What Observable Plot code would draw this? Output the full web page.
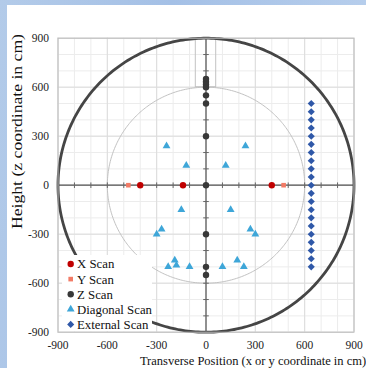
<!DOCTYPE html>
<html><head><meta charset="utf-8">
<script src="https://cdn.jsdelivr.net/npm/d3@7"></script>
<script src="https://cdn.jsdelivr.net/npm/@observablehq/plot@0.6"></script>
<style>
html,body{margin:0;padding:0;width:366px;height:368px;overflow:hidden;}
body{background:linear-gradient(100deg,#b3cbe9,#a4c0e6 40%,#bcd2ee);position:relative;}
#panel{position:absolute;left:7px;top:5px;width:359px;height:363px;background:#fff;}
#chart{position:absolute;left:0;top:0;}
</style></head><body><div id="panel"></div><div id="chart"></div>
<script>
// ---- data ----
const xScanX = [-400, -140, 400];
const xScanY = [0, 0, 0];
const yScanX = [-472, 472];
const yScanY = [0, 0];
const zScanX = [0, 0, 0, 0, 0, 0, 0, 0, 0, 0, 0];
const zScanY = [650, 633, 617, 600, 550, 500, 300, 0, -300, -500, -550];
const diagX = [-240, -120, 120, 240, -150, 150, -270, -300, 270, 300, -230, -190, -180, -100, 100, 190, 230];
const diagY = [240, 120, 120, 240, -150, -150, -270, -300, -270, -300, -500, -460, -490, -500, -500, -460, -500];
const extX = [640,640,640,640,640,640,640,640,640,640,640,640,640,640,640,640,640,640,640,640,640];
const extY = [500,450,400,350,300,250,200,150,100,50,0,-50,-100,-150,-200,-250,-300,-350,-400,-450,-500];
const tickLabels = [-900, -600, -300, 0, 300, 600, 900];
const minorTicks = [-900,-800,-700,-600,-500,-400,-300,-200,-100,0,100,200,300,400,500,600,700,800,900];
const axisTicks = [-800,-700,-600,-500,-400,-300,-200,-100,100,200,300,400,500,600,700,800];
const ringRadii = [900, 600];   // outer vessel, inner fiducial circle
const chimney = {x1: -62, x2: 62, y1: 600, y2: 900};
const seriesNames = ["X Scan", "Y Scan", "Z Scan", "Diagonal Scan", "External Scan"];

const pts = (xs, ys) => xs.map((x, i) => ({x, y: ys[i]}));
const angles = d3.range(0, 361, 1);
const ring = r => angles.map(a => ({x: r * Math.cos(a * Math.PI / 180), y: r * Math.sin(a * Math.PI / 180)}));

const C = {x: "#c00000", y: "#f27b66", z: "#383838", d: "#3ea6d8", e: "#2f58a8"};
const fmt = d => String(d);
const font = "'Liberation Serif', 'Times New Roman', serif";

const svg = Plot.plot({
  width: 366, height: 368,
  marginLeft: 57.5, marginRight: 12.5, marginTop: 37.7, marginBottom: 36.3,
  style: {background: "transparent", fontFamily: font, fontSize: "11px", color: "#333"},
  x: {domain: [-900, 900], label: null},
  y: {domain: [-900, 900], label: null},
  marks: [
    Plot.gridX(minorTicks, {stroke: "#ececec", strokeOpacity: 1}),
    Plot.gridY(minorTicks, {stroke: "#ececec", strokeOpacity: 1}),
    Plot.gridX(tickLabels, {stroke: "#dcdcdc", strokeOpacity: 1}),
    Plot.gridY(tickLabels, {stroke: "#dcdcdc", strokeOpacity: 1}),
    Plot.axisX({ticks: tickLabels, tickSize: 0, tickPadding: 9, tickFormat: fmt, fontSize: 11.5, fill: "#222"}),
    Plot.axisY({ticks: tickLabels, tickSize: 0, tickPadding: 9, tickFormat: fmt, fontSize: 11.5, fill: "#222"}),
    Plot.line(ring(ringRadii[1]), {x: "x", y: "y", stroke: "#c2c2c2", strokeWidth: 1}),
    Plot.rect([chimney], {x1: "x1", x2: "x2", y1: "y1", y2: "y2", fill: "none", stroke: "#c2c2c2", strokeWidth: 1}),
    Plot.line(ring(ringRadii[0]), {x: "x", y: "y", stroke: "#454545", strokeWidth: 2.8}),
    Plot.ruleX([0], {stroke: "#555", strokeWidth: 1.2}),
    Plot.ruleY([0], {stroke: "#555", strokeWidth: 1.2}),
    Plot.link(axisTicks, {x1: d => d, x2: d => d, y1: -17, y2: 17, stroke: "#666", strokeWidth: 1}),
    Plot.link(axisTicks, {y1: d => d, y2: d => d, x1: -17, x2: 17, stroke: "#666", strokeWidth: 1}),
    Plot.frame({stroke: "#bdbdbd"}),
    Plot.dot(pts(diagX, diagY), {x: "x", y: "y", symbol: "triangle", r: 2.9, fill: C.d, stroke: "none"}),
    Plot.dot(pts(extX, extY), {x: "x", y: "y", symbol: "diamond2", r: 3.2, fill: C.e, stroke: "none"}),
    Plot.dot(pts(zScanX, zScanY), {x: "x", y: "y", r: 3.2, fill: C.z, stroke: "none"}),
    Plot.dot(pts(yScanX, yScanY), {x: "x", y: "y", symbol: "square", r: 2.6, fill: C.y, stroke: "none"}),
    Plot.dot(pts(xScanX, xScanY), {x: "x", y: "y", r: 3.2, fill: C.x, stroke: "none"})
  ]
});
document.getElementById("chart").appendChild(svg);

const s = d3.select(svg);
// legend
const lg = s.append("g").attr("text-anchor", "start");
lg.append("rect").attr("x", 62).attr("y", 255).attr("width", 90).attr("height", 76).attr("fill", "#ffffff").attr("stroke", "none");
const symDefs = [
  {t: d3.symbolCircle, sz: Math.PI * 10.2, c: C.x},
  {t: d3.symbolSquare, sz: Math.PI * 6.8, c: C.y},
  {t: d3.symbolCircle, sz: Math.PI * 10.2, c: C.z},
  {t: d3.symbolTriangle, sz: Math.PI * 8.4, c: C.d},
  {t: d3.symbolDiamond2, sz: Math.PI * 10.2, c: C.e}
];
seriesNames.forEach((name, i) => {
  const yy = 264 + i * 15.1;
  lg.append("path").attr("d", d3.symbol(symDefs[i].t, symDefs[i].sz)()).attr("transform", `translate(70.7,${yy})`).attr("fill", symDefs[i].c);
  lg.append("text").attr("x", 77).attr("y", yy).attr("dy", "0.35em").attr("text-anchor", "start")
    .attr("font-family", font).attr("font-size", 12.8).attr("fill", "#111").text(name);
});
// axis titles
s.append("text").attr("transform", "translate(17,131.5) rotate(-90)").attr("text-anchor", "middle").attr("dy", "0.35em")
  .attr("textLength", 195).attr("lengthAdjust", "spacingAndGlyphs")
  .attr("font-family", font).attr("font-size", 14.5).attr("fill", "#111").text("Height (z coordinate in cm)");
s.append("text").attr("x", 253).attr("y", 361).attr("text-anchor", "middle").attr("dy", "0.35em")
  .attr("font-family", font).attr("font-size", 12.5).attr("fill", "#111").text("Transverse Position (x or y coordinate in cm)");
</script></body></html>
